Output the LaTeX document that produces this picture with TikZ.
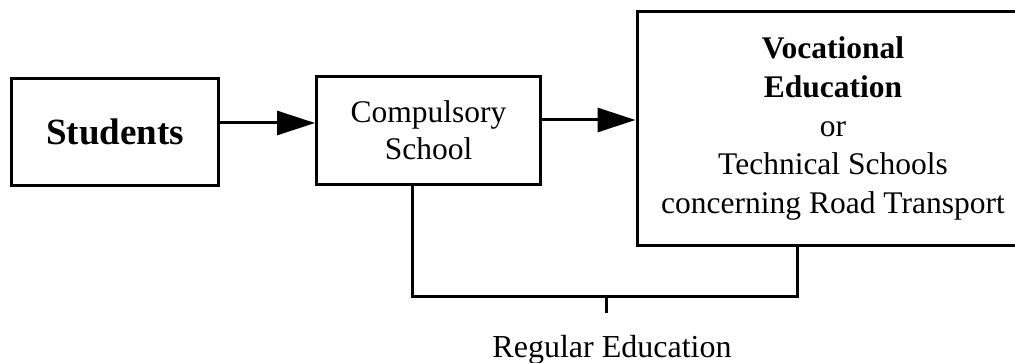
\documentclass[tikz,border=0pt]{standalone}
\usepackage{fontspec}
\setmainfont{Liberation Serif}
\usepackage{tikz}
\usetikzlibrary{arrows.meta, calc}

\begin{document}
\begin{tikzpicture}[
    x=0.5pt, y=0.5pt,
    box/.style={rectangle, draw, line width=1.5pt, align=center, inner sep=0pt,
        font=\fontsize{15.75}{18.5}\selectfont},
    link/.style={line width=1.5pt},
    arr/.style={link, -{Triangle[length=19pt, width=12pt]}}
]
    \useasboundingbox (0,0) rectangle (1015,363);
    \clip (0,0) rectangle (1015,363);

    \node[box, minimum width=103.5pt, minimum height=53.5pt,
        font=\fontsize{18.5}{22}\selectfont\bfseries] (stud) at (115,231) {Students};
    \node[box, minimum width=112pt, minimum height=54pt] (comp) at (428.5,232.5) {Compulsory\\School};
    \node[box, minimum width=196pt, minimum height=117pt, font=\fontsize{15.75}{19.4}\selectfont] (voc) at (833,234.5)
        {\textbf{Vocational}\\\textbf{Education}\\or\\Technical Schools\\concerning Road Transport};

    \draw[arr] ([yshift=4.5pt]stud.east) -- ([yshift=4.5pt]stud.east -| comp.west);
    \draw[arr] ([yshift=5.25pt]comp.east) -- ([yshift=5.25pt]comp.east -| voc.west);

    % regular education bracket
    \coordinate (bl) at (412,66);
    \coordinate (br) at (797,66);
    \coordinate (tk) at (606,66);
    \draw[link] (comp.south -| bl) -- (bl) -- (br) -- (voc.south -| br);
    \draw[link] (tk) -- ++(0,-16);
    \node[anchor=base, font=\fontsize{16}{18.5}\selectfont] (reg) at (612,5) {Regular Education};
\end{tikzpicture}
\end{document}
